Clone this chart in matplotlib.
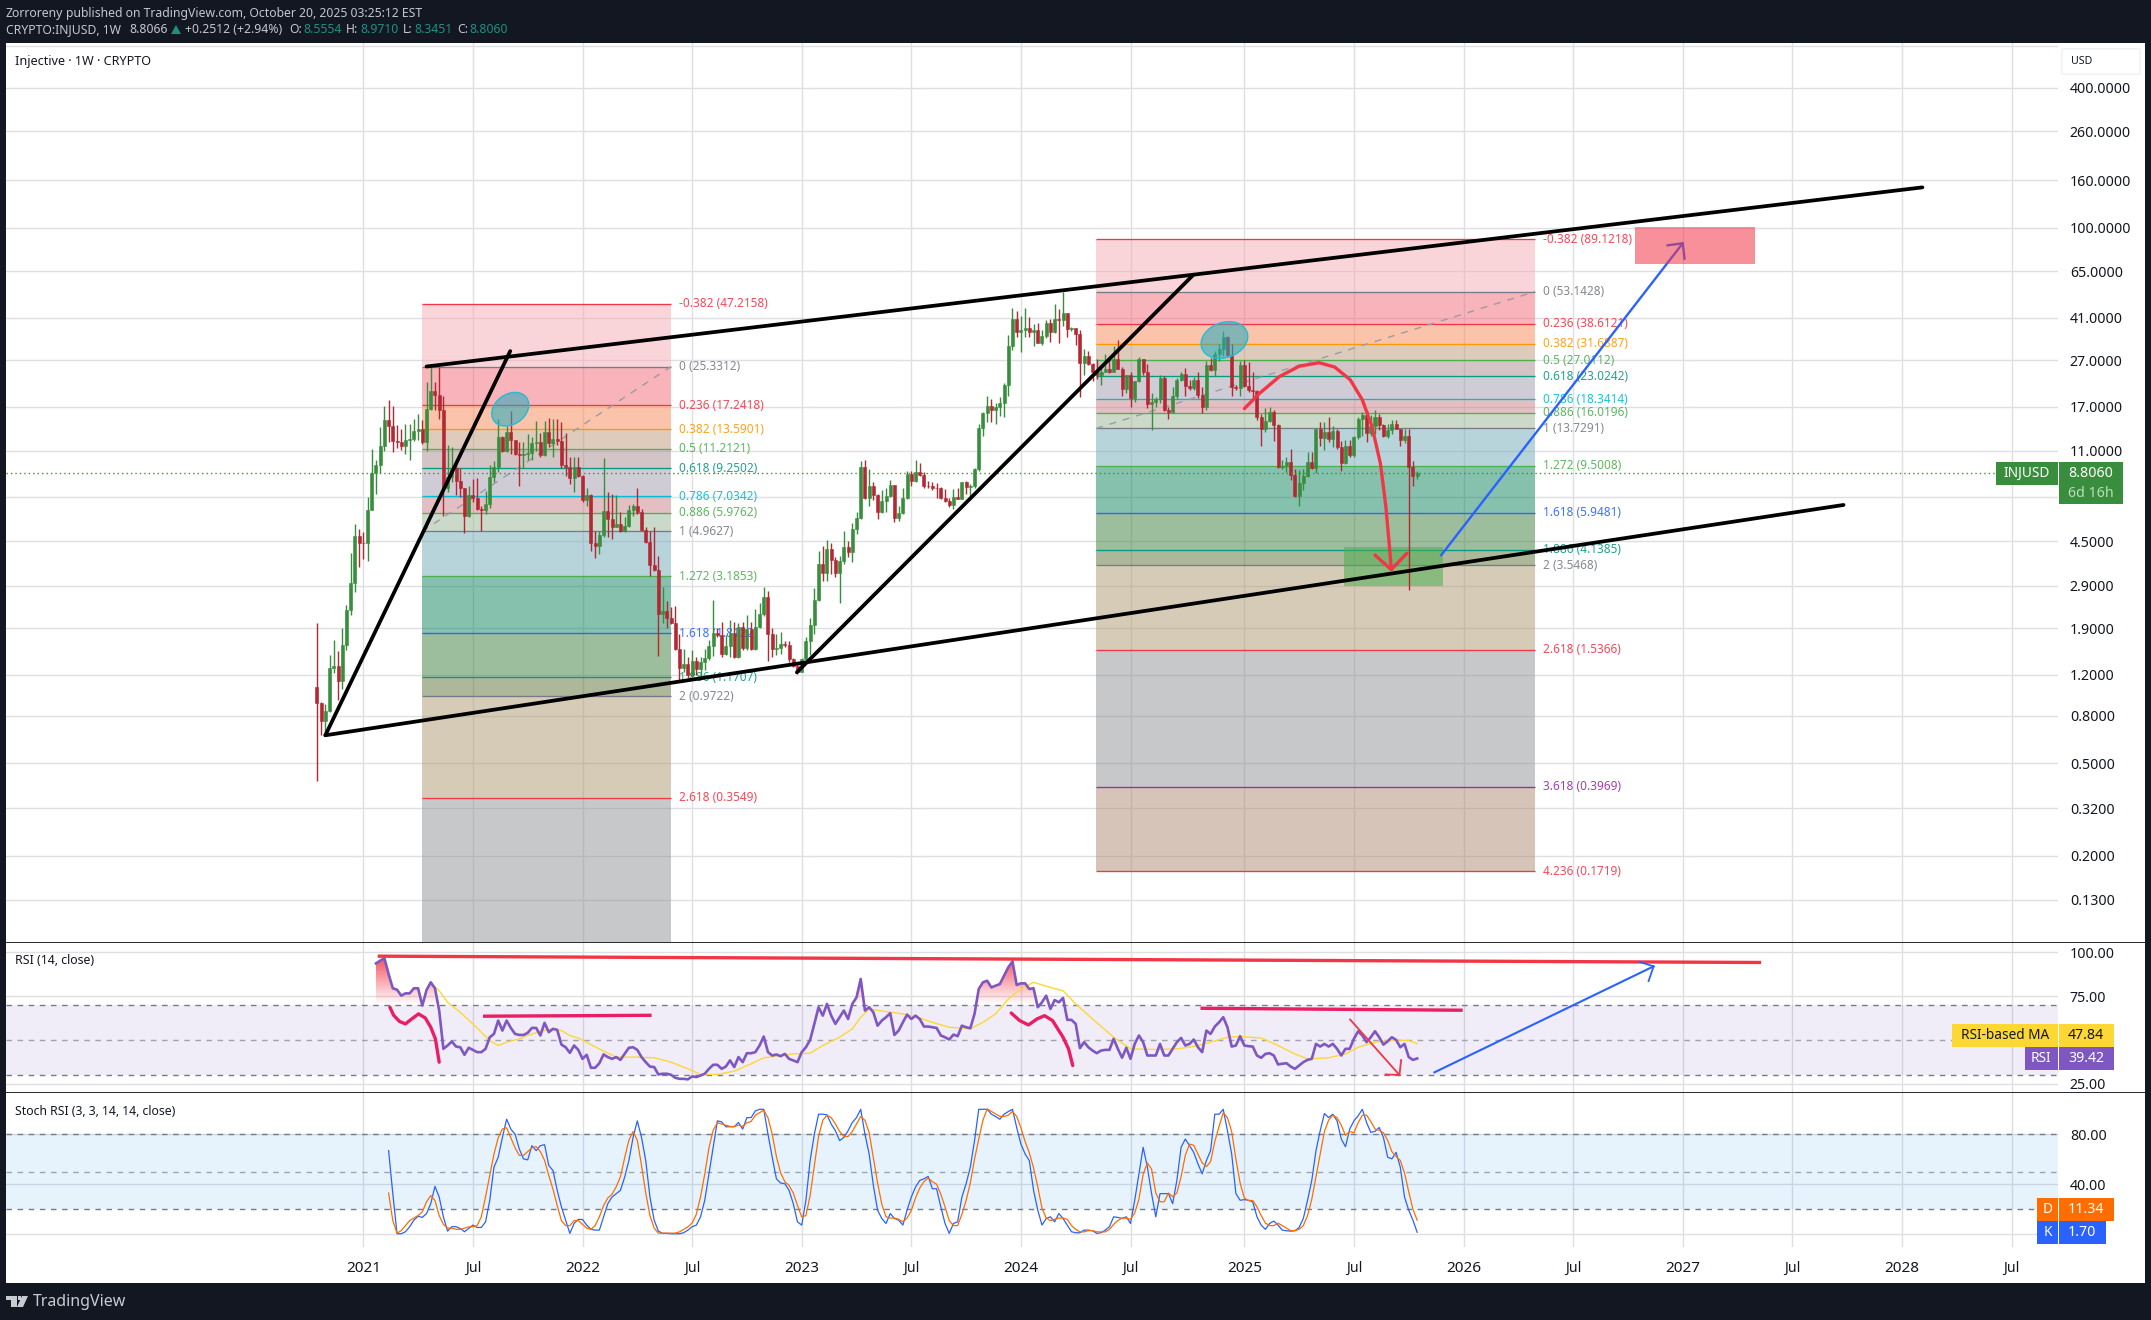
import numpy as np
import matplotlib
matplotlib.use('Agg')
import matplotlib.pyplot as plt
import matplotlib.dates as mdates
from matplotlib.patches import Rectangle, Ellipse, Polygon, FancyBboxPatch
from matplotlib.ticker import NullLocator
from matplotlib.transforms import IdentityTransform

plt.rcParams['font.family'] = ['Noto Sans', 'DejaVu Sans']

W, H = 2151, 1320
PX_PER_DAY = 0.6022

# weekly bars, first one is 2020-10-19
first_bar = '2020-10-19'
first_open = 1.06
closes = [
    .905, .76, .84, 1.29, 1.31, 1.13, 1.61, 2.28, 2.98, 4.76,
    4.43, 4.4, 6.13, 8.8, 9.55, 11.5, 14.9, 14.0, 12.1, 12.05,
    11.5, 12.3, 12.4, 13.4, 13.6, 12.0, 16.7, 19.9, 19.1, 16.4,
    7.6, 8.5, 9.25, 8.2, 7.6, 5.8, 7.1, 6.9, 6.2, 6.1,
    6.5, 8.5, 9.4, 12.65, 11.0, 13.3, 12.2, 10.7, 10.6, 10.7,
    10.75, 11.9, 12.0, 10.6, 13.2, 11.9, 12.4, 12.1, 9.6, 9.4,
    8.4, 9.4, 8.6, 6.75, 7.1, 4.4, 4.3, 4.8, 6.05, 5.6,
    5.2, 5.35, 5.0, 5.25, 6.1, 6.35, 6.0, 5.05, 4.45, 3.55,
    3.4, 2.2, 2.26, 2.1, 2.0, 1.55, 1.29, 1.33, 1.2, 1.37,
    1.27, 1.36, 1.42, 1.6, 1.82, 1.78, 1.47, 1.6, 1.82, 1.43,
    1.92, 1.56, 1.89, 1.55, 1.93, 2.18, 2.59, 1.8, 1.55, 1.57,
    1.62, 1.61, 1.40, 1.31, 1.23, 1.41, 1.67, 1.96, 2.52, 3.6,
    3.3, 4.15, 3.75, 3.3, 3.7, 4.25, 4.05, 5.1, 5.65, 9.4,
    6.9, 7.75, 7.1, 6.0, 6.7, 7.05, 7.85, 5.65, 5.95, 6.9,
    8.75, 8.15, 8.9, 8.65, 7.8, 7.75, 7.65, 7.6, 6.9, 6.7,
    6.45, 7.0, 6.85, 8.05, 7.7, 7.75, 9.15, 13.8, 16.0, 17.1,
    16.5, 17.0, 17.6, 21.2, 30.9, 40.6, 35.5, 36.4, 36.9, 35.8,
    36.3, 32.1, 34.4, 38.9, 35.6, 40.7, 40.0, 42.8, 36.7, 37.0,
    35.1, 26.1, 28.1, 25.9, 24.0, 23.2, 24.1, 24.7, 23.9, 27.3,
    24.8, 20.2, 23.2, 18.5, 21.9, 27.2, 23.9, 17.5, 17.9, 18.4,
    22.7, 16.5, 16.2, 18.9, 22.2, 23.5, 20.9, 20.5, 22.1, 19.2,
    16.9, 25.7, 24.5, 28.8, 30.2, 33.8, 28.4, 20.6, 20.4, 25.6,
    20.9, 20.0, 19.9, 15.4, 13.6, 14.8, 16.2, 14.2, 9.35, 9.5,
    9.85, 8.7, 7.05, 8.0, 8.6, 9.85, 9.3, 13.6, 12.5, 13.3,
    12.4, 13.4, 11.4, 9.75, 11.5, 10.6, 12.6, 15.0, 15.7, 13.1,
    14.0, 15.4, 14.2, 12.8, 13.5, 14.3, 13.7, 12.3, 12.8, 9.4,
    8.5554, 8.806,
]
highs = [
    2.0, .92, .9, 1.46, 1.70, 1.52, 1.90, 2.4, 3.99, 5.35,
    5.1, 4.95, 6.98, 11.17, 10.05, 13.9, 17.1, 18.2, 17.1, 14.2,
    13.7, 14.4, 14.4, 15.1, 15.8, 14.9, 21.8, 25.3, 21.7, 25.33,
    18.9, 11.6, 11.4, 10.0, 9.25, 7.6, 7.8, 8.3, 8.4, 6.4,
    7.4, 9.55, 9.9, 15.0, 12.8, 14.0, 16.3, 12.2, 12.0, 12.0,
    13.0, 12.6, 14.8, 13.1, 14.8, 15.2, 15.0, 15.0, 14.6, 13.1,
    10.4, 10.4, 10.4, 8.7, 7.6, 7.15, 5.0, 5.0, 10.2, 7.3,
    7.2, 7.1, 6.0, 5.7, 6.45, 6.5, 7.6, 6.2, 5.2, 5.0,
    5.2, 3.9, 2.86, 2.5, 2.35, 2.37, 1.8, 1.55, 1.43, 1.54,
    1.43, 1.43, 1.55, 1.69, 2.51, 1.9, 2.03, 1.78, 2.06, 2.03,
    2.0, 2.02, 2.16, 2.03, 2.3, 2.45, 2.85, 2.76, 1.9, 1.8,
    1.83, 1.68, 1.68, 1.42, 1.32, 1.42, 1.75, 2.1, 2.82, 4.07,
    4.3, 4.55, 4.4, 3.85, 3.9, 5.0, 4.5, 5.4, 6.0, 9.95,
    10.0, 9.2, 8.1, 7.2, 7.45, 7.65, 8.25, 7.85, 6.35, 7.6,
    9.05, 9.05, 10.0, 9.75, 8.9, 8.2, 8.1, 8.0, 7.7, 7.55,
    6.9, 7.55, 7.6, 8.1, 8.2, 7.95, 9.3, 14.4, 16.2, 19.0,
    18.4, 17.6, 18.7, 21.5, 34.5, 45.0, 44.0, 41.9, 45.2, 41.3,
    38.7, 39.0, 36.3, 40.0, 40.6, 46.8, 44.8, 53.0, 42.8, 37.5,
    37.1, 36.4, 30.0, 29.5, 26.1, 27.4, 25.0, 28.8, 27.6, 31.1,
    33.0, 25.3, 23.4, 24.1, 22.0, 27.7, 27.2, 26.0, 19.4, 18.8,
    23.2, 23.0, 17.0, 20.7, 22.5, 24.1, 24.9, 22.2, 22.9, 23.9,
    20.6, 26.8, 27.5, 29.5, 31.8, 35.9, 34.3, 31.5, 21.0, 26.8,
    26.9, 26.6, 23.9, 20.0, 15.9, 16.8, 17.0, 16.5, 14.4, 10.0,
    10.4, 11.2, 9.2, 9.1, 9.2, 10.9, 10.9, 13.7, 14.7, 14.7,
    15.4, 14.1, 13.7, 12.1, 12.2, 12.2, 12.8, 15.4, 16.1, 16.5,
    15.7, 16.5, 15.9, 14.4, 14.4, 14.9, 14.9, 13.7, 13.7, 13.6,
    9.95, 8.971,
]
lows = [
    .42, .66, .66, .83, 1.22, .94, 1.04, 1.54, 2.17, 2.73,
    3.5, 3.76, 3.7, 6.1, 7.2, 8.8, 11.0, 12.0, 10.9, 11.3,
    11.1, 10.7, 10.0, 12.1, 12.2, 11.8, 11.0, 16.4, 16.4, 15.0,
    5.8, 7.3, 8.1, 7.1, 7.0, 4.9, 5.7, 6.6, 6.1, 5.0,
    5.9, 6.25, 8.1, 8.9, 10.9, 10.9, 10.7, 10.6, 7.8, 9.25,
    10.0, 10.0, 11.0, 10.3, 10.5, 11.4, 10.4, 11.7, 9.3, 8.6,
    7.9, 7.3, 8.5, 6.6, 6.4, 4.1, 3.8, 3.95, 4.7, 4.7,
    4.6, 5.2, 4.95, 4.95, 5.2, 5.8, 5.9, 5.0, 4.4, 3.2,
    3.35, 1.45, 2.0, 1.9, 1.98, 1.54, 1.14, 1.24, 1.16, 1.18,
    1.2, 1.18, 1.26, 1.39, 1.45, 1.75, 1.43, 1.46, 1.43, 1.42,
    1.42, 1.54, 1.53, 1.53, 1.54, 1.9, 2.15, 1.38, 1.43, 1.46,
    1.47, 1.58, 1.36, 1.30, 1.21, 1.24, 1.4, 1.46, 1.8, 2.48,
    3.05, 3.05, 3.25, 3.15, 2.45, 3.6, 3.85, 3.65, 4.85, 5.6,
    6.85, 6.4, 6.75, 5.6, 5.95, 6.0, 6.95, 5.45, 5.5, 5.9,
    6.85, 7.8, 8.05, 8.6, 7.65, 7.6, 7.5, 6.9, 6.85, 6.6,
    6.3, 6.2, 6.8, 6.8, 7.15, 7.05, 7.6, 9.05, 12.7, 14.7,
    14.7, 14.3, 15.6, 15.4, 19.0, 29.7, 33.9, 29.2, 33.9, 33.9,
    30.9, 32.0, 31.2, 33.5, 32.3, 35.2, 31.9, 38.0, 34.0, 36.0,
    31.2, 18.7, 23.2, 25.8, 22.0, 22.3, 21.0, 23.9, 23.7, 23.9,
    24.8, 18.9, 19.5, 17.0, 17.9, 21.7, 23.3, 16.8, 13.5, 17.0,
    17.6, 16.3, 15.0, 16.0, 18.4, 21.9, 18.9, 20.0, 20.0, 18.6,
    16.0, 16.4, 24.3, 23.0, 26.8, 28.0, 28.0, 18.9, 20.0, 19.0,
    20.6, 19.7, 18.1, 14.9, 11.5, 13.2, 14.7, 12.1, 9.3, 9.2,
    8.95, 8.25, 6.95, 6.4, 7.5, 8.5, 9.2, 8.8, 11.5, 11.1,
    12.0, 11.4, 11.2, 9.05, 9.7, 10.3, 10.3, 12.4, 12.7, 12.0,
    12.7, 13.0, 13.5, 12.6, 12.5, 13.0, 13.6, 11.5, 11.9, 2.78,
    7.75, 8.3451,
]

rsi_values = [
    93.6, 95.1, 96.6, 87.5, 79.4, 78.6, 75.2, 76.5, 76.5, 79.4, 79.4, 69.5, 78.4, 82.8, 79.4, 66.7,
    44.9, 46.8, 49.1, 46.2, 45.8, 41.5, 45.5, 44.3, 43, 43, 44.9, 51.5, 53.4, 61, 55.3, 61,
    56.8, 53.4, 52.8, 52.8, 54, 56.8, 56.8, 52.5, 59.7, 54.4, 56.3, 55.7, 47.3, 45.8, 42.6, 46.8,
    44.3, 39.2, 41.5, 34.1, 34.1, 36.7, 41.7, 40.2, 39.2, 40.2, 38.6, 42, 45.5, 45.8, 44.3, 40.2,
    37.3, 34.8, 34.5, 30.3, 30.7, 30.7, 30.1, 28.4, 27.8, 27.8, 27.5, 29.2, 28.8, 29.7, 30.7, 33.5,
    35.8, 35.8, 33.5, 34.8, 38.3, 34.5, 40.2, 37.3, 42.4, 42.4, 43, 46.8, 51.9, 43, 41.1, 41.7,
    40.7, 42, 39.2, 38.3, 37.3, 43, 45.8, 50, 59.1, 68.6, 63.8, 70.5, 63.8, 59.1, 62.9, 66.7,
    61.9, 70.5, 74.2, 84.7, 66.7, 68.6, 65.7, 58.1, 61, 62.9, 65.2, 52.8, 55.3, 60, 64.4, 61.9,
    63.8, 61.9, 57.6, 57.6, 57.2, 56.8, 52.5, 51.5, 50.2, 53, 52.1, 58.1, 57.2, 56.6, 64.8, 79,
    82.8, 83.7, 79.9, 80.9, 81.8, 86.6, 91.3, 94.7, 81.3, 82.2, 82.2, 79, 79.4, 68.6, 71.4, 75.2,
    67.6, 72.7, 71.4, 73.9, 61.4, 61.4, 59.1, 45.3, 48.7, 45.8, 43.9, 42.4, 43.9, 44.3, 44.3, 50.6,
    44.9, 39.8, 45.5, 39.2, 47.7, 52.5, 48.7, 41.1, 41.1, 41.1, 47.7, 41.1, 41.1, 44.9, 48.7, 51.1,
    46.8, 47.7, 50.2, 45.8, 43, 55.3, 53.4, 57.6, 60, 62.9, 57.2, 46.2, 46.8, 52.1, 46.8, 46.4,
    46.2, 41.1, 39.8, 42, 42.4, 41.1, 36, 36.4, 36.7, 34.8, 33.5, 35.4, 37.3, 38.6, 39.2, 47.7,
    46.2, 47.7, 46.2, 47.7, 44.9, 41.1, 44.9, 44.9, 50.6, 54.9, 52.5, 48.7, 51.5, 54.9, 51.5, 47.3,
    49.2, 51.5, 50, 45.8, 47.7, 40.2, 38.6, 39.42,
]
rsi_ma_bars = [
    27, 29, 31, 34, 37, 39, 41, 43, 45, 48, 50, 53, 56, 58, 60, 62, 65, 68, 71, 73,
    76, 80, 84, 88, 91, 95, 99, 103, 106, 110, 113, 117, 120, 124, 127, 129, 131, 135, 139, 143,
    146, 150, 155, 158, 161, 164, 167, 170, 174, 177, 180, 184, 189, 193, 199, 204, 208, 212, 216,
    219, 224, 228, 232, 235, 240, 244, 247, 251, 256, 259, 261,
]
rsi_ma_values = [
    82.2, 78, 71.4, 65.7, 59.1, 54.4, 49.6, 46.8, 48.7, 50.6, 52.5, 54.9, 56.3, 55.3, 52.5, 51.1, 47.3, 43.6, 40.2, 40.2,
    40.2, 39.8, 37.3, 33.5, 30.3, 30.3, 32.2, 36.4, 39.8, 41.1, 42, 42.4, 46.8, 51.5, 56.3, 62.9, 67.6, 66.1, 64.8, 62.5,
    60, 57.2, 56.3, 60, 64.8, 73.3, 79, 82.8, 79.9, 78, 70.5, 61.9, 51.5, 44.9, 44.5, 44.9, 46.2, 48.7, 51.5,
    51.9, 51.1, 46.8, 42, 39.2, 39.8, 42, 45.8, 48.7, 50, 49.6, 47.84,
]

stoch_k = [
    66.8, 32.5, .5, .5, 2.1, 6.1, 11.3, 14.5, 13.5, 16.6, 24.5, 38.3, 29.8, 14, 2.6, 6.1, 6.1, 4.7, 2.1, 4.7,
    7.4, 5.5, 5.5, 10, 27.2, 53.6, 61.5, 77.3, 91.8, 83.9, 79.9, 68.1, 60.2, 59.4, 70.7, 66.8, 70.7, 71.5, 54.9, 50.9,
    35.1, 21.9, 11.3, .8, 8.7, 11.9, 11.9, 7.4, 4, 3.4, 3.4, 14, 24.5, 29.8, 32.5, 35.1, 45.6, 58.8, 77.3, 90.5,
    77.3, 58.8, 29.8, 11.3, 2.6, .8, .8, .5, .5, .5, 1.3, 3.4, 6.1, 7.4, 14, 27.2, 48.3, 69.4, 90.5, 89.7,
    85.8, 85.8, 85.8, 89.2, 83.9, 93.1, 93.1, 98.4, 99.7, 99.7, 79.9, 61.5, 44.3, 40.9, 40.4, 35.1, 24.5, 10, 7.4, 27.2,
    58.8, 79.9, 95.8, 95.8, 95.3, 87.9, 82.6, 74.7, 77.3, 82.6, 89.2, 93.1, 99.7, 79.9, 64.1, 39, 19.3, 12.7, 8.7, 16.6,
    12.7, 11.3, 7.4, 19.3, 29.8, 37.7, 43, 44.3, 46.2, 36.4, 36.4, 21.9, 8.7, .8, 8.7, 10, 29.8, 40.4, 53.6, 74.7,
    99.7, 99.7, 99.7, 95.8, 93.9, 91.8, 95.8, 97.9, 99.7, 85.2, 72, 64.1, 58.8, 35.1, 19.3, 7.4, 12.7, 14, 10, 16.6,
    12.7, 7.4, 2.1, 1.3, 1.3, 3.4, 3.4, 2.9, .8, 1.3, 3.4, 6.1, 14, 13.5, 12.7, 14, 8.7, 27.2, 48.3, 69.4,
    53.6, 32.5, 14, 32.5, 32.5, 32.5, 24.5, 43, 69.4, 76, 70.7, 65.4, 56.2, 48.3, 58.8, 66.8, 95.8, 95.8, 99.7, 82.6,
    64.1, 32.5, 27.2, 27.7, 27.2, 25.9, 14, 7.4, 4, 8.7, 10.6, 7.4, 3.4, 2.9, 2.6, 2.9, 5.5, 12.7, 27.2, 43,
    66.8, 82.6, 96.3, 93.1, 95.8, 90.5, 76, 69.9, 83.9, 90.5, 94.5, 99.7, 89.2, 81.3, 82.1, 85.2, 77.3, 61.5, 60.2, 65.4,
    53.6, 29.8, 19.3, 11.3, 1.7,
]
stoch_d = [
    33, 11, 1, 3, 7, 11, 13, 15, 18, 26, 31, 27, 15, 8, 5, 5, 4, 4, 5, 6,
    6, 7, 14, 30, 47, 64, 77, 84, 85, 77, 69, 63, 63, 66, 69, 70, 66, 59, 47, 36,
    23, 11, 7, 7, 11, 11, 8, 5, 4, 7, 14, 23, 29, 32, 38, 46, 61, 75, 82, 75,
    55, 33, 15, 5, 1, 1, 1, 1, 1, 2, 4, 6, 9, 16, 30, 48, 69, 83, 89, 88,
    87, 86, 86, 87, 86, 89, 90, 95, 97, 99, 93, 80, 62, 49, 42, 39, 33, 23, 14, 15,
    31, 55, 78, 91, 95, 93, 88, 82, 78, 78, 82, 88, 94, 91, 81, 61, 41, 24, 14, 13,
    13, 12, 10, 13, 19, 29, 37, 42, 45, 42, 40, 32, 22, 11, 7, 7, 16, 27, 41, 60,
    76, 91, 100, 98, 96, 94, 94, 95, 98, 94, 85, 74, 65, 53, 38, 21, 13, 11, 12, 13,
    13, 12, 7, 4, 2, 2, 3, 3, 2, 2, 2, 4, 8, 11, 13, 13, 12, 17, 28, 48,
    57, 52, 33, 26, 26, 33, 30, 33, 46, 63, 72, 71, 64, 57, 54, 58, 74, 86, 97, 93,
    82, 60, 41, 29, 27, 27, 22, 15, 9, 7, 7, 9, 7, 5, 3, 3, 4, 7, 15, 28,
    46, 64, 82, 91, 95, 93, 87, 79, 82, 81, 89, 95, 95, 90, 84, 83, 81, 75, 66, 62,
    59, 49, 34, 20, 11.34,
]

price_ticks = [400, 260, 160, 100, 65, 41, 27, 17, 11, 7, 4.5, 2.9, 1.9, 1.2, 0.8, 0.5, 0.32, 0.2, 0.13]
price_labels = ['400.0000', '260.0000', '160.0000', '100.0000', '65.0000', '41.0000', '27.0000', '17.0000',
                '11.0000', '', '4.5000', '2.9000', '1.9000', '1.2000', '0.8000', '0.5000', '0.3200', '0.2000',
                '0.1300']
time_ticks = ['2021-01-04', '2021-07-05', '2022-01-03', '2022-07-04', '2023-01-02', '2023-07-03',
              '2024-01-01', '2024-07-01', '2025-01-06', '2025-07-07', '2026-01-05', '2026-07-06',
              '2027-01-04', '2027-07-05', '2028-01-03', '2028-07-03']
time_labels = ['2021', 'Jul', '2022', 'Jul', '2023', 'Jul', '2024', 'Jul', '2025', 'Jul', '2026', 'Jul',
               '2027', 'Jul', '2028', 'Jul']

fib_ratios = ['-0.382', '0', '0.236', '0.382', '0.5', '0.618', '0.786', '0.886', '1', '1.272', '1.618',
              '1.886', '2', '2.618', '3.618', '4.236']
fib_colors = ['#f23645', '#787b86', '#f23645', '#ff9800', '#4caf50', '#089981', '#00bcd4', '#4caf50',
              '#787b86', '#4caf50', '#2962ff', '#089981', '#787b86', '#f23645', '#9c27b0', '#f23645']
fib_bands = [(250, 213, 217), (250, 180, 187), (253, 196, 172), (223, 204, 189), (212, 198, 198),
             (209, 205, 214), (228, 192, 196), (203, 218, 201), (185, 213, 220), (135, 194, 175),
             (158, 191, 157), (174, 184, 154), (214, 204, 184), (200, 201, 203), (214, 197, 184)]
fib1_prices = [47.2158, 25.3312, 17.2418, 13.5901, 11.2121, 9.2502, 7.0342, 5.9762, 4.9627, 3.1853,
               1.8122, 1.1707, 0.9722, 0.3549, 0.0696]
fib2_prices = [89.1218, 53.1428, 38.6121, 31.6887, 27.0112, 23.0242, 18.3414, 16.0196, 13.7291, 9.5008,
               5.9481, 4.1385, 3.5468, 1.5366, 0.3969, 0.1719]
fib1_span = ['2021-04-12', '2022-05-30']
fib2_span = ['2024-05-05', '2026-05-04']

trend_upper_t = ['2021-04-19', '2028-02-06']
trend_upper_p = [25.33, 149]
trend_lower_t = ['2020-11-02', '2027-09-28']
trend_lower_p = [0.66, 6.44]
diag1_t = ['2020-11-02', '2021-09-05']
diag1_p = [0.66, 29.5]
diag2_t = ['2022-12-25', '2024-10-13']
diag2_p = [1.23, 62.6]

curve_t = ['2025-01-06', '2025-01-31', '2025-03-05', '2025-04-07', '2025-05-10', '2025-06-05', '2025-07-01',
           '2025-07-21', '2025-08-06', '2025-08-20', '2025-08-29', '2025-09-04', '2025-09-07']
curve_p = [16.7, 19.4, 22.9, 25.4, 26.3, 25.2, 22.2, 18.2, 14.0, 9.7, 6.35, 4.27, 3.4]
curve_head_t = ['2025-08-11', '2025-09-07', '2025-10-03']
curve_head_p = [3.92, 3.4, 3.99]
blue_t = ['2025-11-29', '2027-01-04']
blue_p = [3.92, 85.7]
blue_head_t = ['2026-12-10', '2027-01-04', '2027-01-07']
blue_head_p = [84, 85.7, 73.6]
green_box_t = ['2025-06-20', '2025-12-02']
green_box_p = [2.9, 4.24]
pink_box_t = ['2026-10-17', '2027-05-04']
pink_box_p = [69.8, 100.7]

# rsi pane drawings, x as bar number
rsi_red_bars = [14.8, 342.2]
rsi_red_vals = [97.7, 94.1]
rsi_mag1_bars = [39.8, 79.0]
rsi_mag1_vals = [63.5, 64.0]
rsi_mag2_bars = [210, 271.4]
rsi_mag2_vals = [68, 66.9]
rsi_curve1_bars = [17.3, 18.2, 19.6, 21, 22.3, 24.1, 25.7, 27, 28.1, 29.0]
rsi_curve1_vals = [68.6, 64, 60.5, 59.1, 61.6, 64.8, 62.5, 57.2, 50.6, 37.3]
rsi_curve2_bars = [164.7, 166.7, 168.8, 170.8, 172.6, 174.5, 177, 178.3, 179.3]
rsi_curve2_vals = [65.3, 61, 58.5, 61.9, 63.8, 61, 51.5, 44.9, 35.4]
rsi_arrow_bars = [245.1, 256.8]
rsi_arrow_vals = [61.6, 30]
rsi_head_bars = [253.5, 256.8, 257.2]
rsi_head_vals = [30.3, 30, 38.5]
rsi_blue_bars = [265.1, 317.1]
rsi_blue_vals = [31.5, 91.9]
rsi_blue_head_bars = [313.9, 317.1, 315.9]
rsi_blue_head_vals = [94.3, 91.9, 83.5]

GREEN = '#388e3c'
RED = '#b22833'
GRID = '#dddfe3'
DARK = '#131722'


def num(dates):
    return mdates.datestr2num(dates)


def bar_x(bars):
    return num(first_bar) + 7 * np.asarray(bars, dtype=float)


def make_axes(fig, top, bottom):
    a = fig.add_axes([6 / W, 1 - bottom / H, (2058 - 6) / W, (bottom - top) / H])
    a.set_facecolor('white')
    for s in a.spines.values():
        s.set_visible(False)
    a.grid(True, color=GRID, lw=1.0)
    a.set_axisbelow(True)
    a.yaxis.tick_right()
    a.tick_params(axis='y', length=0, pad=8.5, labelsize=10.2, labelcolor='#131722')
    a.tick_params(axis='x', length=0, labelbottom=False)
    a.set_xticks(num(time_ticks))
    a.set_xlim(x_left, x_right)
    return a


def band_face(rgb):
    # seen colour is rgb at alpha .5 over white
    return tuple(max(0, 2 * c - 255) / 255 for c in rgb) + (0.5,)


def draw_fib(a, span, prices):
    x0, x1 = num(span)
    for i in range(len(prices) - 1):
        a.add_patch(Rectangle((x0, prices[i + 1]), x1 - x0, prices[i] - prices[i + 1],
                              facecolor=band_face(fib_bands[i]), edgecolor='none', zorder=3))
    for i, p in enumerate(prices):
        a.plot([x0, x1], [p, p], color=fib_colors[i], lw=0.95, zorder=4, solid_capstyle='butt')
        a.annotate('%s (%.4f)' % (fib_ratios[i], p), xy=(x1, p), xytext=(5.5, 0), textcoords='offset points',
                   color=fib_colors[i], fontsize=8.5, va='center', ha='left', zorder=4.5, alpha=0.9)
    a.plot([x0, x1], [prices[8], prices[1]], color='#9a9ca4', lw=1.0, ls=(0, (5, 5)), zorder=4)


def px_rect(x0, y0, x1, y1, color, z=5):
    fig.patches.append(Rectangle((x0 / W, 1 - y1 / H), (x1 - x0) / W, (y1 - y0) / H, transform=fig.transFigure,
                                 facecolor=color, edgecolor='none', zorder=z))


def px_text(x, y, s, color='white', size=10.2, weight='normal', ha='left'):
    fig.text(x / W, 1 - y / H, s, color=color, fontsize=size, fontweight=weight, ha=ha, va='center', zorder=6)


fig = plt.figure(figsize=(W / 100, H / 100), dpi=100, facecolor=DARK)
px_rect(6, 43, 2145, 1283, 'white', z=-1)

t0 = num('2021-01-04')
x_left = t0 + (6 - 363.3) / PX_PER_DAY
x_right = t0 + (2058 - 363.3) / PX_PER_DAY

ax = make_axes(fig, 43, 942)
ax_rsi = make_axes(fig, 943, 1092)
ax_st = make_axes(fig, 1093, 1247)

# price pane
ax.set_yscale('log')
ax.set_ylim(0.0854, 621.4)
ax.set_yticks(price_ticks)
ax.set_yticklabels(price_labels)
ax.yaxis.set_minor_locator(NullLocator())
ax.axhline(603, color=GRID, lw=1.0, zorder=0.5)

closes = np.array(closes)
highs = np.array(highs)
lows = np.array(lows)
opens = np.r_[first_open, closes[:-1]]
bar_dates = bar_x(np.arange(len(closes)))
up = closes >= opens
colors = np.where(up, GREEN, RED)

draw_fib(ax, fib1_span, fib1_prices)
draw_fib(ax, fib2_span, fib2_prices)

ax.vlines(bar_dates, lows, highs, colors=colors, lw=1.0, zorder=5)
ax.bar(bar_dates, np.abs(closes - opens), bottom=np.minimum(opens, closes), width=5.0, color=colors,
       edgecolor=colors, linewidth=0.4, zorder=5.1)

ax.axhline(closes[-1], color=GREEN, lw=1.0, ls=(0, (1, 2.2)), zorder=5.2)

for line_t, line_p in [(trend_upper_t, trend_upper_p), (trend_lower_t, trend_lower_p),
                       (diag1_t, diag1_p), (diag2_t, diag2_p)]:
    ax.plot(num(line_t), line_p, color='black', lw=2.7, zorder=5.3, solid_capstyle='round')

gx0, gx1 = num(green_box_t)
ax.add_patch(Rectangle((gx0, green_box_p[0]), gx1 - gx0, green_box_p[1] - green_box_p[0],
                       facecolor='#4caf50', alpha=0.55, edgecolor='none', zorder=4.6))
ax.plot(num(blue_t), blue_p, color='#2962ff', lw=1.7, zorder=6)
ax.plot(num(blue_head_t), blue_head_p, color='#2962ff', lw=1.7, zorder=6)
px0, px1 = num(pink_box_t)
ax.add_patch(Rectangle((px0, pink_box_p[0]), px1 - px0, pink_box_p[1] - pink_box_p[0],
                       facecolor='#f23645', alpha=0.55, edgecolor='none', zorder=6.5))
ax.plot(num(curve_t), curve_p, color='#f23645', lw=2.4, zorder=7, solid_capstyle='round', solid_joinstyle='round')
ax.plot(num(curve_head_t), curve_head_p, color='#f23645', lw=2.4, zorder=7, solid_capstyle='round')

# ellipses sized in pixels
for when, price, w_px, h_px, ang in [('2021-09-05', 16.6, 40, 30, 35), ('2024-12-04', 32.9, 48, 35, 20)]:
    cx, cy = ax.transData.transform((num(when), price))
    ax.add_patch(Ellipse((cx, cy), w_px, h_px, angle=ang, transform=IdentityTransform(),
                         facecolor=(0.13, 0.67, 0.75, 0.55), edgecolor='#22bcd4', lw=1.0, zorder=5.5))

# rsi pane
rsi = np.array(rsi_values)
rsi_x = bar_dates[-len(rsi):]
ax_rsi.set_ylim(20.3, 105.2)
ax_rsi.set_yticks([100, 75, 25])
ax_rsi.set_yticklabels(['100.00', '75.00', '25.00'])
ax_rsi.axhspan(30, 70, color='#7e57c2', alpha=0.11, lw=0, zorder=1)
for lev, col in [(70, '#787b86'), (50, '#a0a3ab'), (30, '#787b86')]:
    ax_rsi.axhline(lev, color=col, lw=1.0, ls=(0, (4, 4)), zorder=1.5)

gradient = np.zeros((64, 1, 4))
gradient[:, :, 0] = 0.95
gradient[:, :, 1] = 0.21
gradient[:, :, 2] = 0.27
gradient[:, :, 3] = np.linspace(0.95, 0, 64).reshape(64, 1)
over = ax_rsi.fill_between(rsi_x, rsi, 70, where=rsi > 70, interpolate=True, facecolor='none', edgecolor='none')
for path in over.get_paths():
    im = ax_rsi.imshow(gradient, extent=[rsi_x[0], rsi_x[-1], 70, 100], aspect='auto', origin='upper', zorder=2)
    im.set_clip_path(path, transform=ax_rsi.transData)
ax_rsi.set_xlim(x_left, x_right)
ax_rsi.set_ylim(20.3, 105.2)

ax_rsi.plot(bar_x(rsi_red_bars), rsi_red_vals, color='#f23645', lw=2.4, zorder=4)
ax_rsi.plot(bar_x(rsi_mag1_bars), rsi_mag1_vals, color='#e91e63', lw=2.4, zorder=4)
ax_rsi.plot(bar_x(rsi_mag2_bars), rsi_mag2_vals, color='#e91e63', lw=2.4, zorder=4)
ax_rsi.plot(bar_x(rsi_curve1_bars), rsi_curve1_vals, color='#e91e63', lw=2.4, zorder=4, solid_capstyle='round')
ax_rsi.plot(bar_x(rsi_curve2_bars), rsi_curve2_vals, color='#e91e63', lw=2.4, zorder=4, solid_capstyle='round')
ax_rsi.plot(bar_x(rsi_arrow_bars), rsi_arrow_vals, color='#f23645', lw=1.3, zorder=4)
ax_rsi.plot(bar_x(rsi_head_bars), rsi_head_vals, color='#f23645', lw=1.3, zorder=4)
ax_rsi.plot(bar_x(rsi_blue_bars), rsi_blue_vals, color='#2962ff', lw=1.5, zorder=4)
ax_rsi.plot(bar_x(rsi_blue_head_bars), rsi_blue_head_vals, color='#2962ff', lw=1.3, zorder=4)
ax_rsi.plot(bar_x(rsi_ma_bars), rsi_ma_values, color='#fdd835', lw=1.0, zorder=3)
ax_rsi.plot(rsi_x, rsi, color='#7e57c2', lw=1.9, zorder=3.5)

# stoch pane
ax_st.set_ylim(-10.06, 112.7)
ax_st.set_yticks([80, 40, 0])
ax_st.set_yticklabels(['80.00', '40.00', ''])
ax_st.axhspan(20, 80, color='#2196f3', alpha=0.11, lw=0, zorder=1)
for lev, col in [(80, '#787b86'), (50, '#a0a3ab'), (20, '#787b86')]:
    ax_st.axhline(lev, color=col, lw=1.0, ls=(0, (4, 4)), zorder=1.5)
ax_st.plot(bar_dates[-len(stoch_k):], stoch_k, color='#2962ff', lw=0.9, zorder=3)
ax_st.plot(bar_dates[-len(stoch_d):], stoch_d, color='#ff6d00', lw=0.9, zorder=3.1)
ax_st.tick_params(axis='x', labelbottom=True, pad=10, labelsize=11, labelcolor='#131722')
ax_st.set_xticklabels(time_labels)
for tick_label, text in zip(ax_st.get_xticklabels(), time_labels):
    if text != 'Jul':
        tick_label.set_fontweight('bold')
    else:
        tick_label.set_fontsize(10.2)

# pane separators
px_rect(6, 942, 2145, 943, '#2a2e39')
px_rect(6, 1092, 2145, 1093, '#2a2e39')

# labels on the right side
px_rect(1996, 462, 2058, 485, GREEN)
px_text(2027, 473.5, 'INJUSD', weight='bold', ha='center', size=9.8)
px_rect(2059, 462, 2123, 504, GREEN)
px_text(2091, 473.5, '8.8060', weight='bold', ha='center', size=10.2)
px_text(2091, 493, '6d 16h', color='#bcdcbd', weight='bold', ha='center', size=10.2)

px_rect(1952, 1024, 2058, 1047, '#fdd835')
px_text(2005, 1035.5, 'RSI-based MA', color='#131722', ha='center', size=9.8)
px_rect(2059, 1024, 2114, 1047, '#fdd835')
px_text(2086, 1035.5, '47.84', color='#131722', ha='center', size=10.2)
px_rect(2025, 1047, 2058, 1070, '#7e57c2')
px_text(2041, 1058.5, 'RSI', ha='center', size=9.8)
px_rect(2059, 1047, 2114, 1070, '#7e57c2')
px_text(2086, 1058.5, '39.42', ha='center', size=10.2)
px_rect(2037, 1198, 2058, 1221, '#ff6d00')
px_text(2047.5, 1209.5, 'D', ha='center', size=9.8)
px_rect(2059, 1198, 2114, 1221, '#ff6d00')
px_text(2086, 1209.5, '11.34', ha='center', size=10.2)
px_rect(2037, 1221, 2058, 1244, '#2962ff')
px_text(2047.5, 1232.5, 'K', ha='center', size=9.8)
px_rect(2059, 1221, 2106, 1244, '#2962ff')
px_text(2082, 1232.5, '1.70', ha='center', size=10.2)

fig.patches.append(FancyBboxPatch((2064 / W, 1 - 73 / H), 74 / W, 23 / H, boxstyle='round,pad=0.001',
                                  transform=fig.transFigure, facecolor='white', edgecolor='#eef0f4', lw=1, zorder=5))
px_text(2071, 61.5, 'USD', color='#131722', size=7.6)

# header
HEAD = '#c3c6ce'
TEAL = '#1f8f82'
px_text(6, 13, 'Zorroreny', color=HEAD, size=8.8, weight='bold')
px_text(66, 13, 'published on TradingView.com, October 20, 2025 03:25:12 EST', color=HEAD, size=8.8)
px_text(6, 29.5, 'CRYPTO:INJUSD, 1W', color=HEAD, size=8.8, weight='bold')
px_text(129, 29.5, '8.8066', color=HEAD, size=8.8)
fig.patches.append(Polygon([(171 / W, 1 - 34 / H), (181 / W, 1 - 34 / H), (176 / W, 1 - 25 / H)],
                           transform=fig.transFigure, facecolor=TEAL, edgecolor='none', zorder=5))
px_text(185, 29.5, '+0.2512 (+2.94%)', color=HEAD, size=8.8)
for xl, lab, xv, val in [(289, 'O:', 303, '8.5554'), (346, 'H:', 360, '8.9710'),
                         (403, 'L:', 414, '8.3451'), (457, 'C:', 469, '8.8060')]:
    px_text(xl, 29.5, lab, color=HEAD, size=8.8, weight='bold')
    px_text(xv, 29.5, val, color=TEAL, size=8.8)

px_text(15, 61, 'Injective · 1W · CRYPTO', color='#131722', size=9.1, weight='medium')
px_text(15, 961, 'RSI (14, close)', color='#131722', size=8.9)
px_text(15, 1111.5, 'Stoch RSI (3, 3, 14, 14, close)', color='#131722', size=8.8)

# footer logo
LOGO = '#c8cbd2'
px_rect(6, 1296, 17, 1300, LOGO)
px_rect(11, 1296, 17, 1307, LOGO)
px_rect(18, 1296, 21, 1300, LOGO)
fig.patches.append(Polygon([(22 / W, 1 - 1296 / H), (28 / W, 1 - 1296 / H), (23 / W, 1 - 1307 / H),
                            (17 / W, 1 - 1307 / H)], transform=fig.transFigure, facecolor=LOGO,
                           edgecolor='none', zorder=5))
px_text(33, 1301.5, 'TradingView', color=LOGO, size=11.5, weight='medium')

fig.savefig('out.png', dpi=100, facecolor=DARK)
